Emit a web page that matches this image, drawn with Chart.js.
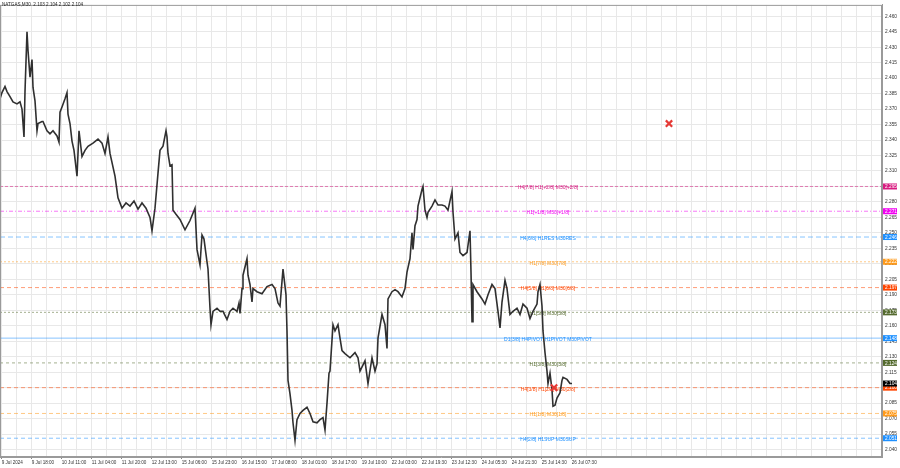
<!DOCTYPE html>
<html>
<head>
<meta charset="utf-8">
<script src="https://cdn.jsdelivr.net/npm/chart.js@4.4.1/dist/chart.umd.min.js"></script>
<style>
  html, body { margin: 0; padding: 0; background: #fff; }
  #wrap { width: 900px; height: 468px; }
</style>
</head>
<body>
<div id="wrap"><canvas id="chart" width="900" height="468"></canvas></div>
<script>
const symbolTitle = 'NATGAS,M30  2.103 2.104 2.102 2.104';

// bar position (one M30 bar per pixel column) and traced price
const barPos = [
  0, 2, 5, 7, 10, 13, 17, 20, 22, 24, 25, 27, 28, 30, 32, 33, 35, 37, 38, 42,
  43, 47, 50, 53, 57, 59, 60, 62, 65, 67, 68, 70, 72, 74, 77, 79, 82, 85, 88, 93,
  98, 102, 105, 108, 110, 115, 118, 122, 126, 130, 134, 138, 142, 146, 150, 152, 155, 158, 160, 163,
  166, 167, 168, 170, 172,
  173, 176, 180, 185, 190, 195, 197, 200, 202, 204, 207, 208, 210, 211, 213, 217, 220, 223, 227, 230,
  233, 237, 239, 240, 242, 243, 247, 248, 250, 252, 253, 257, 262, 267, 272, 275, 278, 280, 282, 283,
  286, 287, 288, 290, 292, 293, 295, 297, 300, 303, 307, 310, 313, 317, 320, 323, 325, 327, 329, 330,
  333, 335, 338, 340, 342, 345, 350, 355, 358, 360, 365, 368, 372, 375, 377, 378, 382, 385, 387, 388,
  392, 395, 398, 402, 405, 407, 410, 412, 413, 415, 417, 418, 422, 423, 425, 427, 428, 432, 435, 438,
  442, 445, 448, 452, 453, 455, 458, 460, 463, 467, 470, 471, 472, 473, 477, 482, 485, 488, 492, 495,
  498, 500, 502, 505, 507, 510, 513, 517, 520, 523, 527, 530, 533, 537, 538, 540, 542, 543, 545, 547,
  548, 550, 552, 553, 555, 557, 560, 562, 563, 567, 570, 572
];
const price = [
  2.380, 2.386, 2.392, 2.387, 2.382, 2.377, 2.375, 2.377, 2.370, 2.343,
  2.387, 2.445, 2.427, 2.401, 2.418, 2.391, 2.378, 2.349, 2.356, 2.358,
  2.358, 2.349, 2.346, 2.349, 2.344, 2.338, 2.367, 2.372, 2.380, 2.386,
  2.365, 2.356, 2.339, 2.330, 2.305, 2.349, 2.324, 2.330, 2.334, 2.337,
  2.341, 2.337, 2.327, 2.343, 2.327, 2.305, 2.284, 2.274, 2.279, 2.276,
  2.281, 2.273, 2.279, 2.274, 2.265, 2.252, 2.274, 2.308, 2.330, 2.334,
  2.349, 2.343, 2.327, 2.315, 2.316,
  2.272, 2.268, 2.263, 2.253, 2.262, 2.274, 2.234, 2.219, 2.248, 2.244,
  2.222, 2.215, 2.177, 2.161, 2.174, 2.177, 2.174, 2.174, 2.166, 2.174,
  2.177, 2.174, 2.182, 2.172, 2.196, 2.209, 2.225, 2.209, 2.200, 2.183,
  2.196, 2.193, 2.191, 2.198, 2.200, 2.196, 2.182, 2.179, 2.203, 2.215,
  2.190, 2.155, 2.107, 2.094, 2.078, 2.066, 2.049, 2.069, 2.075, 2.078,
  2.081, 2.075, 2.067, 2.066, 2.069, 2.071, 2.059, 2.085, 2.114, 2.116,
  2.161, 2.155, 2.161, 2.148, 2.136, 2.133, 2.129, 2.134, 2.129, 2.116,
  2.126, 2.104, 2.129, 2.116, 2.123, 2.148, 2.171, 2.161, 2.138, 2.186,
  2.193, 2.195, 2.193, 2.188, 2.196, 2.212, 2.225, 2.250, 2.234, 2.257,
  2.263, 2.276, 2.292, 2.295, 2.272, 2.265, 2.270, 2.276, 2.282, 2.277,
  2.277, 2.276, 2.272, 2.290, 2.270, 2.244, 2.250, 2.231, 2.228, 2.231,
  2.252, 2.212, 2.164, 2.200, 2.193, 2.186, 2.181, 2.190, 2.200, 2.196,
  2.174, 2.158, 2.183, 2.204, 2.196, 2.171, 2.174, 2.177, 2.171, 2.181,
  2.177, 2.167, 2.174, 2.181, 2.193, 2.200, 2.179, 2.155, 2.134, 2.116,
  2.104, 2.114, 2.098, 2.082, 2.083, 2.090, 2.095, 2.107, 2.110, 2.108,
  2.104, 2.104
];
const lastPrice = 2.104;

const timeLabels = [
  '9 Jul 2024', '9 Jul 18:00', '10 Jul 11:00', '11 Jul 04:00', '11 Jul 20:00',
  '12 Jul 13:00', '15 Jul 06:00', '15 Jul 23:00', '16 Jul 15:00', '17 Jul 08:00',
  '18 Jul 01:00', '18 Jul 17:00', '19 Jul 10:00', '22 Jul 03:00', '22 Jul 19:30',
  '23 Jul 12:30', '24 Jul 05:30', '24 Jul 21:30', '25 Jul 14:30', '26 Jul 07:30'
];
const yTicks = [
  2.040, 2.055, 2.070, 2.085, 2.100, 2.115, 2.130, 2.145, 2.160, 2.175,
  2.190, 2.205, 2.220, 2.235, 2.250, 2.265, 2.280, 2.295, 2.310, 2.325,
  2.340, 2.355, 2.370, 2.385, 2.400, 2.415, 2.430, 2.445, 2.460
];

// Murrey-style levels
const levelPrices = [2.295, 2.271, 2.246, 2.222, 2.197, 2.173, 2.148, 2.124, 2.100, 2.075, 2.051];
const levelNames = [
  'H4[7/8] H1[+2/8] M30[+2/8]',
  'H1[+1/8] M30[+1/8]',
  'H4[6/8] H1RES M30RES',
  'H1[7/8] M30[7/8]',
  'H4[5/8] H1[6/8] M30[6/8]',
  'H1[5/8] M30[5/8]',
  'D1[3/8] H4PIVOT H1PIVOT M30PIVOT',
  'H1[3/8] M30[3/8]',
  'H4[3/8] H1[2/8] M30[2/8]',
  'H1[1/8] M30[1/8]',
  'H4[2/8] H1SUP M30SUP'
];

// red cross markers
const markX = [669, 554];
const markY = [2.356, 2.100];

const lvStyle = [
  { color: '#d81b80', dash: [3, 2] },
  { color: '#f000f0', dash: [4, 2, 1, 2] },
  { color: '#1e90ff', dash: [5, 3] },
  { color: '#ff9a1a', dash: [2, 2] },
  { color: '#ff4500', dash: [4, 3] },
  { color: '#556b2f', dash: [2, 2] },
  { color: '#1e90ff', dash: [] },
  { color: '#556b2f', dash: [3, 3] },
  { color: '#ff4500', dash: [4, 3] },
  { color: '#ff9a1a', dash: [4, 3] },
  { color: '#1e90ff', dash: [4, 3] }
];

const PLOT_MAX = 882;
const xGrid = [];
for (let v = 1.7; v < PLOT_MAX; v += 15) xGrid.push(v);

const FONT = '"Liberation Sans", Arial, sans-serif';
Chart.defaults.font.family = FONT;

const mtDecor = {
  id: 'mtDecor',
  beforeDatasetsDraw(chart) {
    const { ctx, scales: { x, y } } = chart;
    ctx.save();
    ctx.font = '5px ' + FONT;
    ctx.textAlign = 'center';
    ctx.textBaseline = 'middle';
    levelPrices.forEach((p, i) => {
      ctx.fillStyle = lvStyle[i].color;
      ctx.fillText(levelNames[i], x.getPixelForValue(548), y.getPixelForValue(p) + 1.5);
    });
    ctx.restore();
  },
  afterDraw(chart) {
    const { ctx, chartArea: a, scales: { y } } = chart;
    ctx.save();
    ctx.strokeStyle = '#9a9a9a';
    ctx.lineWidth = 1;
    ctx.strokeRect(a.left + 0.5, a.top + 0.5, a.right - a.left - 1, a.bottom - a.top - 1);

    ctx.font = '4.8px ' + FONT;
    ctx.textAlign = 'left';
    ctx.textBaseline = 'middle';
    const boxes = levelPrices.map((p, i) => ({ p, c: lvStyle[i].color }));
    boxes.push({ p: lastPrice, c: '#000' });
    boxes.forEach((b) => {
      const py = y.getPixelForValue(b.p);
      ctx.fillStyle = b.c;
      ctx.fillRect(a.right + 1, py - 3, 14, 6);
      ctx.fillStyle = '#fff';
      ctx.fillText(b.p.toFixed(3), a.right + 3, py + 0.3);
    });

    ctx.fillStyle = '#222';
    ctx.font = '4.6px ' + FONT;
    ctx.fillText(symbolTitle, 2, 5);
    ctx.restore();
  }
};

const datasets = [
  {
    data: barPos.map((b, i) => ({ x: b, y: price[i] })),
    borderColor: '#303030',
    borderWidth: 1.6,
    pointRadius: 0,
    tension: 0,
    order: 1
  },
  {
    data: markX.map((mx, i) => ({ x: mx, y: markY[i] })),
    showLine: false,
    pointStyle: 'crossRot',
    pointRadius: 4.5,
    borderColor: '#e53935',
    borderWidth: 2.2,
    order: 0
  }
];
levelPrices.forEach((p, i) => {
  datasets.push({
    data: [{ x: 0, y: p }, { x: PLOT_MAX, y: p }],
    borderColor: lvStyle[i].color + '88',
    borderWidth: 1,
    borderDash: lvStyle[i].dash,
    pointRadius: 0,
    order: 5
  });
});

new Chart(document.getElementById('chart'), {
  type: 'line',
  data: { datasets },
  options: {
    responsive: false,
    animation: false,
    events: [],
    devicePixelRatio: 1,
    layout: { padding: 0, autoPadding: false },
    plugins: { legend: { display: false }, tooltip: { enabled: false } },
    scales: {
      x: {
        type: 'linear',
        min: 0,
        max: PLOT_MAX,
        afterBuildTicks: (s) => { s.ticks = xGrid.map((v) => ({ value: v })); },
        afterFit: (s) => { s.height = 11; },
        ticks: {
          autoSkip: false,
          maxRotation: 0,
          minRotation: 0,
          align: 'start',
          padding: 1,
          color: '#333',
          font: { size: 4.6 },
          callback: (v, i) => (i % 2 === 0 && i / 2 < timeLabels.length ? timeLabels[i / 2] : '')
        },
        grid: {
          color: '#e8e8e8',
          tickLength: 2,
          tickColor: (c) => (c.index % 2 === 0 && c.index / 2 < timeLabels.length ? '#888' : 'rgba(0,0,0,0)')
        },
        border: { color: '#9a9a9a' }
      },
      y: {
        type: 'linear',
        position: 'right',
        min: 2.0328,
        max: 2.4710,
        afterBuildTicks: (s) => { s.ticks = yTicks.map((v) => ({ value: v })); },
        afterFit: (s) => { s.width = 18; },
        ticks: {
          crossAlign: 'near',
          padding: 2,
          color: '#333',
          font: { size: 4.8 },
          callback: (v) => Number(v).toFixed(3)
        },
        grid: { color: '#e8e8e8', tickLength: 1, tickColor: '#888' },
        border: { color: '#9a9a9a' }
      }
    }
  },
  plugins: [mtDecor]
});
</script>
</body>
</html>
